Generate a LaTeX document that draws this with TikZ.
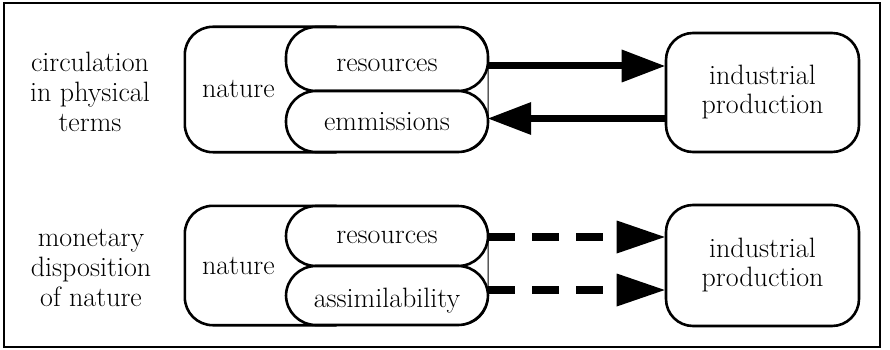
\documentclass[tikz,border=0pt]{standalone}
\usepackage{fontspec}
\usetikzlibrary{arrows.meta}
\begin{document}
\begin{tikzpicture}[x=1pt,y=-1pt,
  txt/.style={font=\fontsize{28pt}{30pt}\selectfont, inner sep=0pt},
  box/.style={txt, draw, line width=2.6pt, fill=white},
  naturebox/.style={txt, minimum width=303pt, text width=269pt, inner xsep=17pt, align=left, text height=17pt, text depth=0pt},
  pill/.style={box, rounded corners=30pt, minimum width=202pt, text depth=0pt},
  indbox/.style={box, rounded corners=27pt, minimum width=193pt, align=center, font=\fontsize{28pt}{29pt}\selectfont},
  solidarrow/.style={line width=7pt, -{Triangle[length=43pt,width=33pt,line width=0pt]}},
  dasharrow/.style={line width=8pt, dash pattern=on 27pt off 17pt, -{Triangle[length=48pt,width=33pt,line width=0pt]}}
]
\useasboundingbox (0,0) rectangle (890,350);
\draw[line width=2pt] (4,3) rectangle (880,347);

% labels
\node[txt, align=center] (lab1) at (90,92) {circulation\\in physical\\terms};
\node[txt, align=center] (lab2) at (91,268) {monetary\\disposition\\of nature};

% upper row
\node[naturebox, minimum height=125pt] (nat1) at (336.5,89.5) {nature};
\draw[line width=1pt, rounded corners=28pt] (nat1.north west) rectangle (nat1.south east);
\draw[line width=2.6pt, rounded corners=28pt] (nat1.north) -- (nat1.north west) -- (nat1.south west) -- (nat1.south);
\node[pill, minimum height=64pt, text height=26pt] (res1) at (387,59) {resources};
\node[pill, minimum height=61pt, text height=17pt] (emm1) at (387,121.5) {emmissions};
\node[indbox, minimum height=119pt] (ind1) at (762.5,92.5) {industrial\\production};

\coordinate (t1) at ([yshift=26.5pt]ind1.west);
\coordinate (t2) at ([yshift=-26pt]ind1.west);
\draw[solidarrow] (nat1.east |- t1) -- (t1);
\draw[solidarrow] (t2) -- (nat1.east |- t2);

% lower row
\node[naturebox, minimum height=119pt] (nat2) at (336.5,265.5) {nature};
\draw[line width=1pt, rounded corners=28pt] (nat2.north west) rectangle (nat2.south east);
\draw[line width=2.6pt, rounded corners=28pt] (nat2.north) -- (nat2.north west) -- (nat2.south west) -- (nat2.south);
\node[pill, minimum height=60pt, text height=14pt] (res2) at (387,236) {resources};
\node[pill, minimum height=59pt, text height=23pt] (ass2) at (387,295.5) {assimilability};
\node[indbox, minimum height=121pt] (ind2) at (762.5,265.5) {industrial\\production};

\coordinate (t3) at ([yshift=28.5pt]ind2.west);
\coordinate (t4) at ([yshift=-24.5pt]ind2.west);
\draw[dasharrow] (nat2.east |- t3) -- (t3);
\draw[dasharrow] (nat2.east |- t4) -- (t4);
\end{tikzpicture}
\end{document}
